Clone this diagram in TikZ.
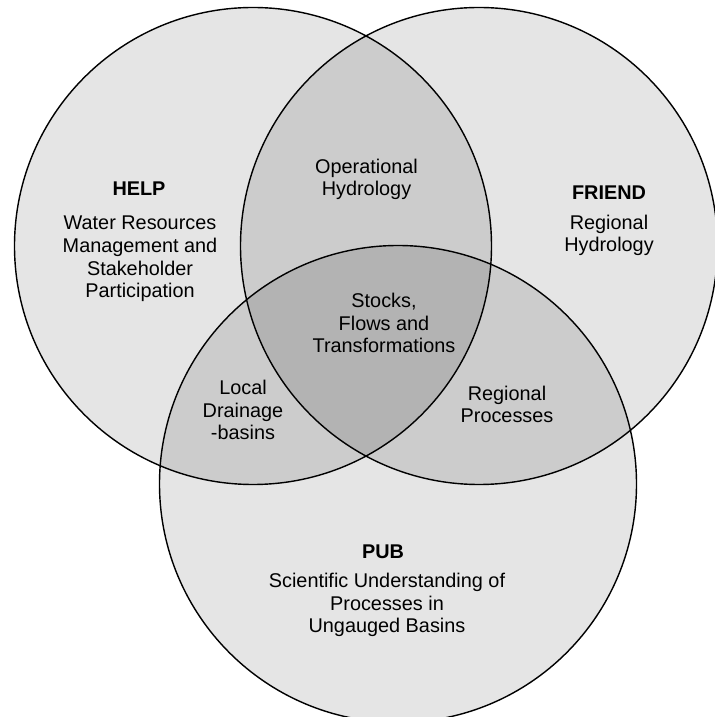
\documentclass[tikz,border=0pt]{standalone}
\usepackage{fontspec}
\setmainfont{Liberation Sans}
\usepackage{tikz}

\definecolor{oneset}{HTML}{E5E5E5}
\definecolor{twosets}{HTML}{CCCCCC}
\definecolor{threesets}{HTML}{B3B3B3}

\begin{document}
\begin{tikzpicture}[
    label/.style={align=center, font=\fontsize{11.3}{12.9}\selectfont},
    title/.style={label, font=\fontsize{11.3}{12.9}\selectfont\bfseries},
    rim/.style={line width=0.8pt}]
    \useasboundingbox (0,0) rectangle (14.28,14.34);
    \coordinate (help) at (5.06,9.42);
    \coordinate (friend) at (9.58,9.42);
    \coordinate (pub) at (7.96,4.66);
    \def\rad{4.77}
    % single sets
    \fill[oneset] (help) circle (\rad);
    \fill[oneset] (friend) circle (\rad);
    \fill[oneset] (pub) circle (\rad);
    % pairs
    \begin{scope}
        \clip (help) circle (\rad);
        \fill[twosets] (friend) circle (\rad);
        \fill[twosets] (pub) circle (\rad);
    \end{scope}
    \begin{scope}
        \clip (friend) circle (\rad);
        \fill[twosets] (pub) circle (\rad);
    \end{scope}
    % all three
    \begin{scope}
        \clip (help) circle (\rad);
        \clip (friend) circle (\rad);
        \fill[threesets] (pub) circle (\rad);
    \end{scope}
    \draw[rim] (help) circle (\rad);
    \draw[rim] (friend) circle (\rad);
    \draw[rim] (pub) circle (\rad);
    \node[title] (helpT) at (2.78,10.56) {HELP};
    \node[label] (helpB) at (2.80,9.16) {Water Resources\\Management and\\Stakeholder\\Participation};
    \node[title] (friendT) at (12.18,10.48) {FRIEND};
    \node[label] (friendB) at (12.18,9.63) {Regional\\Hydrology};
    \node[title] (pubT) at (7.66,3.30) {PUB};
    \node[label] (pubB) at (7.74,2.24) {Scientific Understanding of\\Processes in\\Ungauged Basins};
    \node[label] (oper) at (7.33,10.75) {Operational\\Hydrology};
    \node[label] (local) at (4.86,6.14) {Local\\Drainage\\-basins};
    \node[label] (region) at (10.14,6.25) {Regional\\Processes};
    \node[label] (stocks) at (7.68,7.88) {Stocks,\\Flows and\\Transformations};
\end{tikzpicture}
\end{document}
